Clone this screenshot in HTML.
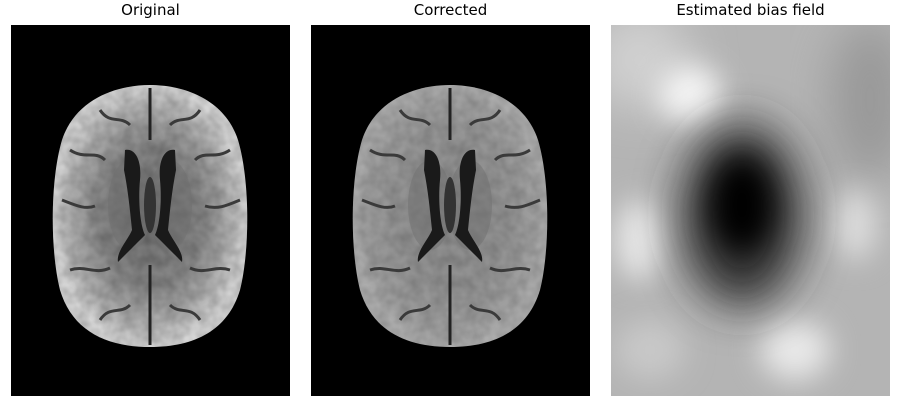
<!DOCTYPE html>
<html><head><meta charset="utf-8">
<style>
html,body{margin:0;padding:0;background:#fff;width:900px;height:400px;overflow:hidden;font-family:"DejaVu Sans","Liberation Sans",sans-serif;}
.t{position:absolute;top:1px;font-size:15px;color:#000;text-align:center;width:279px;}
</style></head><body>
<div class="t" style="left:11px">Original</div>
<div class="t" style="left:311px">Corrected</div>
<div class="t" style="left:611px">Estimated bias field</div>
<svg width="900" height="400" style="position:absolute;left:0;top:0">
<defs>
<radialGradient id="gOrig" cx="0.5" cy="0.5" r="0.5">
<stop offset="0" stop-color="#6a6a6a"/><stop offset="0.55" stop-color="#888"/><stop offset="0.85" stop-color="#b5b5b5"/><stop offset="1" stop-color="#d5d5d5"/>
</radialGradient>
<radialGradient id="gCorr" cx="0.5" cy="0.5" r="0.5">
<stop offset="0" stop-color="#8a8a8a"/><stop offset="0.6" stop-color="#939393"/><stop offset="0.9" stop-color="#a0a0a0"/><stop offset="1" stop-color="#acacac"/>
</radialGradient>
<filter id="tex" x="0" y="0" width="1" height="1">
<feTurbulence type="fractalNoise" baseFrequency="0.09" numOctaves="2" seed="3" result="n"/>
<feColorMatrix in="n" type="matrix" values="0 0 0 0 0  0 0 0 0 0  0 0 0 0 0  0 0 0 -1.2 0.9" result="a"/>
<feComposite in="a" in2="SourceGraphic" operator="in"/>
</filter>
<filter id="blur" x="-50%" y="-50%" width="200%" height="200%"><feGaussianBlur stdDeviation="22"/></filter>
<filter id="blur2" x="-50%" y="-50%" width="200%" height="200%"><feGaussianBlur stdDeviation="14"/></filter>
<clipPath id="c3"><rect x="611" y="25" width="279" height="371"/></clipPath>
<g id="brainShape">
<path d="M150,85 C185,85 225,100 238,140 C250,180 250,250 240,290 C228,330 195,347 150,347 C105,347 72,330 60,290 C50,250 50,180 62,140 C75,100 115,85 150,85 Z"/>
</g>
<g id="details">
<path d="M150,88 L150,140 M150,265 L150,345" stroke="#222" stroke-width="3" fill="none"/>
<ellipse cx="130" cy="205" rx="22" ry="45" fill="#707070" opacity="0.5"/>
<ellipse cx="170" cy="205" rx="22" ry="45" fill="#707070" opacity="0.5"/>
<path d="M125,150 C135,148 142,160 140,180 C138,200 140,225 145,235 C135,245 122,258 118,262 C116,252 128,240 132,230 C130,210 128,190 124,170 Z" fill="#1a1a1a"/>
<path d="M175,150 C165,148 158,160 160,180 C162,200 160,225 155,235 C165,245 178,258 182,262 C184,252 172,240 168,230 C170,210 172,190 176,170 Z" fill="#1a1a1a"/>
<ellipse cx="150" cy="205" rx="6" ry="28" fill="#333"/>
<path d="M62,200 C75,205 85,210 95,206 M240,200 C228,205 218,210 205,206 M70,150 C85,160 95,150 105,160 M230,150 C215,160 205,150 195,160 M70,270 C85,265 95,275 110,268 M230,270 C215,265 205,275 190,268 M100,110 C110,125 120,115 130,125 M200,110 C190,125 180,115 170,125 M100,320 C110,305 120,315 130,305 M200,320 C190,305 180,315 170,305" stroke="#3a3a3a" stroke-width="3" fill="none"/>
</g>
</defs>
<rect x="11" y="25" width="279" height="371" fill="#000"/>
<g>
<use href="#brainShape" fill="url(#gOrig)"/>
<use href="#brainShape" fill="#fff" filter="url(#tex)" opacity="0.25"/>
<use href="#details"/>
</g>
<rect x="311" y="25" width="279" height="371" fill="#000"/>
<g transform="translate(300,0)">
<use href="#brainShape" fill="url(#gCorr)"/>
<use href="#brainShape" fill="#fff" filter="url(#tex)" opacity="0.2"/>
<use href="#details"/>
</g>
<g clip-path="url(#c3)">
<rect x="611" y="25" width="279" height="371" fill="#b4b4b4"/>
<ellipse cx="640" cy="60" rx="50" ry="50" fill="#d0d0d0" filter="url(#blur)"/>
<ellipse cx="870" cy="100" rx="40" ry="80" fill="#999" filter="url(#blur)"/>
<ellipse cx="690" cy="95" rx="32" ry="30" fill="#f4f4f4" filter="url(#blur2)"/>
<ellipse cx="640" cy="240" rx="25" ry="40" fill="#e6e6e6" filter="url(#blur2)"/>
<ellipse cx="855" cy="225" rx="22" ry="35" fill="#dcdcdc" filter="url(#blur2)"/>
<ellipse cx="795" cy="350" rx="35" ry="30" fill="#e8e8e8" filter="url(#blur2)"/>
<ellipse cx="650" cy="350" rx="35" ry="30" fill="#c8c8c8" filter="url(#blur2)"/>
<ellipse cx="742" cy="215" rx="62" ry="92" fill="#333" filter="url(#blur)"/>
<ellipse cx="742" cy="205" rx="32" ry="48" fill="#000" filter="url(#blur2)"/>
</g>
</svg>
</body></html>
